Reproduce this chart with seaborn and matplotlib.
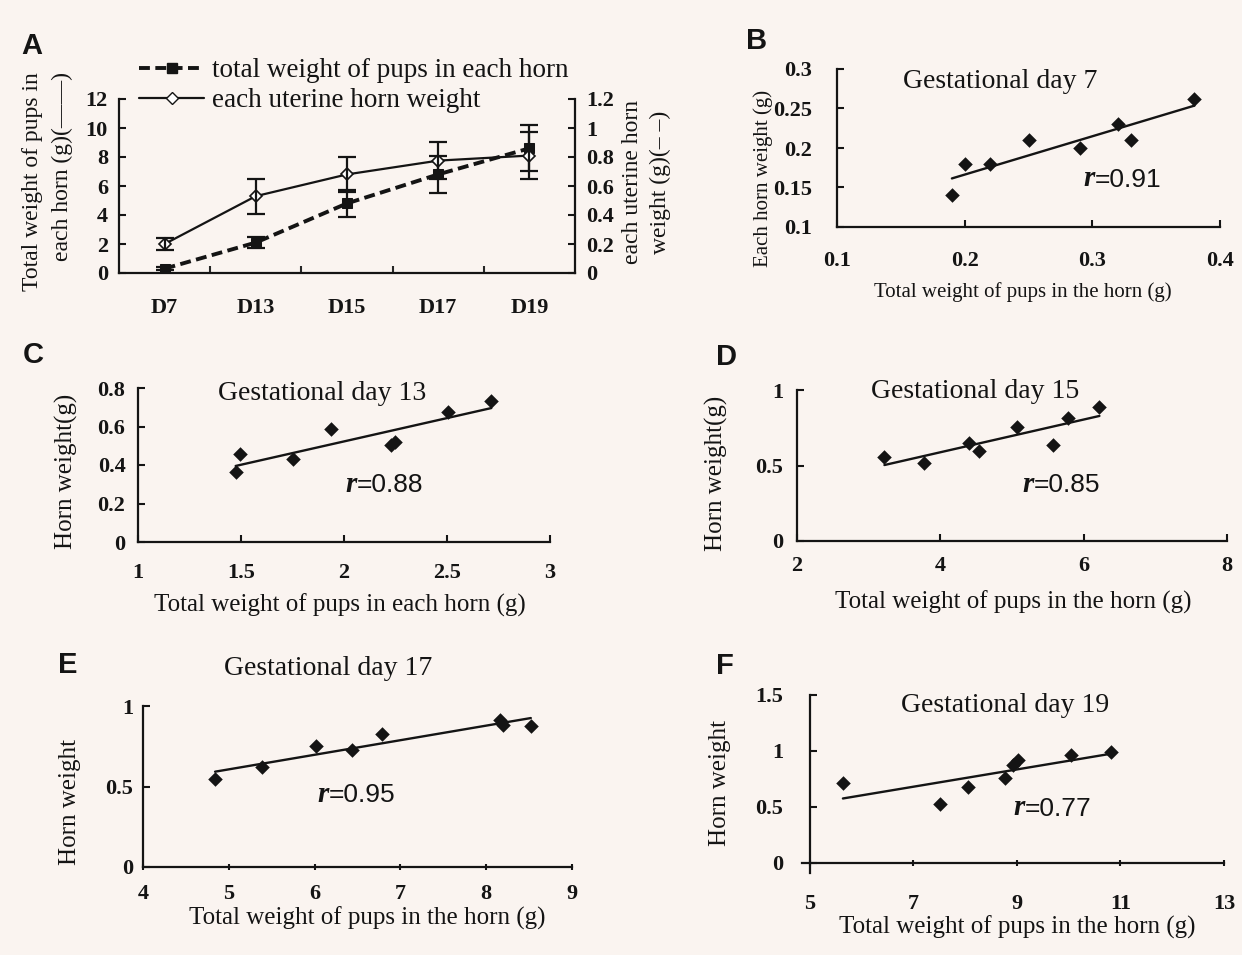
import numpy as np
import matplotlib
matplotlib.use("Agg")
import matplotlib.pyplot as plt
import seaborn as sns
from matplotlib.lines import Line2D

W, H = 1242, 955
BG = "#faf4f0"
INK = "#141414"

# ---- panel A: weights over gestation ----
days = ["D7", "D13", "D15", "D17", "D19"]
pups_total = [0.3, 2.1, 4.8, 6.8, 8.6]
pups_err = [0.1, 0.35, 0.95, 1.3, 1.6]
horn_weight = [0.20, 0.53, 0.68, 0.775, 0.81]
horn_err = [0.04, 0.12, 0.12, 0.13, 0.16]

# ---- panels B-F: horn weight vs total pup weight ----
gd7_pups = [0.19, 0.20, 0.22, 0.25, 0.29, 0.32, 0.33, 0.38]
gd7_horn = [0.14, 0.18, 0.18, 0.21, 0.20, 0.23, 0.21, 0.262]
gd13_pups = [1.474, 1.494, 1.752, 1.939, 2.23, 2.246, 2.505, 2.715]
gd13_horn = [0.364, 0.455, 0.429, 0.589, 0.502, 0.52, 0.675, 0.732]
gd15_pups = [3.22, 3.77, 4.40, 4.54, 5.07, 5.57, 5.78, 6.22]
gd15_horn = [0.558, 0.519, 0.651, 0.596, 0.753, 0.634, 0.812, 0.890]
gd17_pups = [4.84, 5.39, 6.02, 6.44, 6.79, 8.16, 8.20, 8.52]
gd17_horn = [0.549, 0.621, 0.752, 0.729, 0.828, 0.915, 0.884, 0.874]
gd19_pups = [5.64, 7.52, 8.06, 8.77, 8.93, 9.03, 10.04, 10.82]
gd19_horn = [0.713, 0.53, 0.677, 0.763, 0.876, 0.915, 0.965, 0.995]

r_values = ["0.91", "0.88", "0.85", "0.95", "0.77"]

sns.set_theme(style="ticks", rc={"figure.facecolor": BG, "axes.facecolor": BG})
plt.rcParams["font.family"] = ["Liberation Serif", "DejaVu Serif"]
plt.rcParams["axes.linewidth"] = 1.6
plt.rcParams["axes.edgecolor"] = INK
plt.rcParams["text.color"] = INK

fig = plt.figure(figsize=(W / 100, H / 100), dpi=100)
fig.patch.set_facecolor(BG)


def place(l, t, r, b):
    return [l / W, 1 - b / H, (r - l) / W, (b - t) / H]


def ftext(x, y, s, **kw):
    return fig.text(x / W, 1 - y / H, s, **kw)


def style_axes(ax, xpad, ypad, xdir="in", size=16):
    ax.set_facecolor("none")
    sns.despine(ax=ax)
    ax.tick_params(axis="x", direction=xdir, length=5, width=1.5, pad=xpad,
                   labelsize=size, colors=INK)
    ax.tick_params(axis="y", direction="in", length=5, width=1.5, pad=ypad,
                   labelsize=size, colors=INK)
    for lab in ax.get_xticklabels() + ax.get_yticklabels():
        lab.set_fontweight("bold")
    ax.set_xlabel("")
    ax.set_ylabel("")


def fmt(v):
    return "%g" % v


# ---------------- panel A ----------------
pos = np.arange(len(days))
axA = fig.add_axes(place(119, 99, 575, 273))
axA2 = axA.twinx()

sns.lineplot(x=pos, y=pups_total, ax=axA, color=INK, lw=2.8,
             linestyle=(0, (2.8, 1.4)), marker="s", markersize=7,
             markerfacecolor=INK, markeredgecolor=INK)
axA.errorbar(pos, pups_total, yerr=pups_err, fmt="none", ecolor=INK,
             elinewidth=1.6, capsize=6.5, capthick=1.6)
sns.lineplot(x=pos, y=horn_weight, ax=axA2, color=INK, lw=1.6,
             marker="D", markersize=6, markerfacecolor="white",
             markeredgecolor=INK, markeredgewidth=1.2)
axA2.errorbar(pos, horn_weight, yerr=horn_err, fmt="none", ecolor=INK,
              elinewidth=1.6, capsize=6.5, capthick=1.6)

axA.set_xlim(-0.5, len(days) - 0.5)
axA.set_ylim(0, 12)
axA2.set_ylim(0, 1.2)
axA.set_yticks(np.arange(0, 13, 2))
axA2.set_yticks(np.arange(0, 1.3, 0.2))
axA2.set_yticklabels([fmt(round(v, 1)) for v in np.arange(0, 1.3, 0.2)])
axA.set_xticks(pos)
axA.set_xticklabels(days)
axA.set_xticks(pos[:-1] + 0.5, minor=True)
style_axes(axA, xpad=18, ypad=8)
axA.tick_params(axis="x", which="major", length=0)
axA.tick_params(axis="x", which="minor", direction="in", length=5, width=1.5)
axA2.set_facecolor("none")
for s in ["left", "top", "bottom"]:
    axA2.spines[s].set_visible(False)
axA2.spines["right"].set_linewidth(1.6)
axA2.tick_params(axis="y", direction="in", length=5, width=1.5, pad=8,
                 labelsize=16, colors=INK)
for lab in axA2.get_yticklabels():
    lab.set_fontweight("bold")
axA2.set_ylabel("")

h1 = Line2D([], [], color=INK, lw=2.8, linestyle=(0, (2.8, 1.4)), marker="s",
            markersize=7, markerfacecolor=INK)
h2 = Line2D([], [], color=INK, lw=1.6, marker="D", markersize=6,
            markerfacecolor="white", markeredgecolor=INK)
fig.legend([h1, h2], ["total weight of pups in each horn", "each uterine horn weight"],
           loc="upper left", bbox_to_anchor=(139 / W, 1 - 58 / H), frameon=False,
           borderpad=0, borderaxespad=0, handlelength=2.4, handletextpad=0.3,
           labelspacing=0.2, prop={"family": "Liberation Serif", "size": 19.5})

ftext(33, 72, "Total weight of pups in", rotation=90, ha="center", va="top", size=17)
ftext(62, 72, "each horn (g)(\u2014\u2014)", rotation=90, ha="center", va="top", size=17)
ftext(632, 182, "each uterine horn", rotation=90, ha="center", va="center", size=17)
ftext(660, 182, "weight (g)(\u2013 \u2013)", rotation=90, ha="center", va="center", size=17)

# ---------------- scatter panels ----------------
panels = [
    dict(x=gd7_pups, y=gd7_horn, rect=(837, 69, 1220, 227), xlim=(0.1, 0.4),
         ylim=(0.1, 0.3), xt=[0.1, 0.2, 0.3, 0.4], yt=[0.1, 0.15, 0.2, 0.25, 0.3],
         pads=(17, 18), title="Gestational day 7", tpos=(1000, 82),
         rpos=(1083, 178), ylab="Each horn weight (g)", ylpos=(763, 178),
         xlab="Total weight of pups in the horn (g)", xlpos=(1023, 292), lsize=15),
    dict(x=gd13_pups, y=gd13_horn, rect=(138, 388, 550, 542), xlim=(1, 3),
         ylim=(0, 0.8), xt=[1, 1.5, 2, 2.5, 3], yt=[0, 0.2, 0.4, 0.6, 0.8],
         pads=(15, 9), title="Gestational day 13", tpos=(322, 393),
         rpos=(345, 484), ylab="Horn weight(g)", ylpos=(66, 471),
         xlab="Total weight of pups in each horn (g)", xlpos=(340, 605), lsize=18),
    dict(x=gd15_pups, y=gd15_horn, rect=(797, 390, 1227, 541), xlim=(2, 8),
         ylim=(0, 1), xt=[2, 4, 6, 8], yt=[0, 0.5, 1],
         pads=(11, 10), title="Gestational day 15", tpos=(975, 391),
         rpos=(1022, 484), ylab="Horn weight(g)", ylpos=(716, 473),
         xlab="Total weight of pups in the horn (g)", xlpos=(1013, 602), lsize=18),
    dict(x=gd17_pups, y=gd17_horn, rect=(143, 706, 572, 867), xlim=(4, 9),
         ylim=(0, 1), xt=[4, 5, 6, 7, 8, 9], yt=[0, 0.5, 1],
         pads=(10, 7), title="Gestational day 17", tpos=(328, 668),
         rpos=(317, 794), ylab="Horn weight", ylpos=(70, 802),
         xlab="Total weight of pups in the horn (g)", xlpos=(367, 918), lsize=18,
         xdir="inout"),
    dict(x=gd19_pups, y=gd19_horn, rect=(802, 695, 1224, 873), xlim=(4.85, 13),
         ylim=(-0.09, 1.5), xt=[5, 7, 9, 11, 13], yt=[0, 0.5, 1, 1.5],
         pads=(20, 19), title="Gestational day 19", tpos=(1005, 705),
         rpos=(1013, 807), ylab="Horn weight", ylpos=(720, 783),
         xlab="Total weight of pups in the horn (g)", xlpos=(1017, 927), lsize=18,
         xdir="inout", shifted=True),
]

for p, rv in zip(panels, r_values):
    ax = fig.add_axes(place(*p["rect"]))
    sns.regplot(x=np.array(p["x"]), y=np.array(p["y"]), ax=ax, ci=None,
                marker="D", color=INK, truncate=True,
                scatter_kws={"s": 55, "linewidths": 0, "alpha": 1, "zorder": 3},
                line_kws={"lw": 1.7, "color": INK})
    ax.set_xlim(*p["xlim"])
    ax.set_ylim(*p["ylim"])
    ax.set_xticks(p["xt"])
    ax.set_xticklabels([fmt(v) for v in p["xt"]])
    ax.set_yticks(p["yt"])
    ax.set_yticklabels([fmt(v) for v in p["yt"]])
    if p.get("shifted"):
        ax.spines["left"].set_position(("data", 5))
        ax.spines["bottom"].set_position(("data", 0))
    style_axes(ax, xpad=p["pads"][0], ypad=p["pads"][1], xdir=p.get("xdir", "in"))

    ftext(*p["tpos"], p["title"], ha="center", va="center", size=20)
    rt = ftext(*p["rpos"], "r", ha="left", va="center", size=21,
               fontstyle="italic", fontweight="bold")
    ax.annotate("=" + rv, xy=(1, 0), xycoords=rt, ha="left", va="bottom",
                size=19, family=["Liberation Sans", "DejaVu Sans"], color=INK)
    ftext(*p["ylpos"], p["ylab"], rotation=90, ha="center", va="center", size=p["lsize"])
    ftext(*p["xlpos"], p["xlab"], ha="center", va="center", size=p["lsize"])

# panel letters
for letter, (x, y) in zip("ABCDEF", [(32, 46), (757, 41), (33, 355), (726, 357),
                                      (68, 665), (725, 666)]):
    ftext(x, y, letter, ha="center", va="center", size=21, fontweight="bold",
          family=["Liberation Sans", "DejaVu Sans"], color=INK)

fig.savefig("out.png", dpi=100, facecolor=BG)
